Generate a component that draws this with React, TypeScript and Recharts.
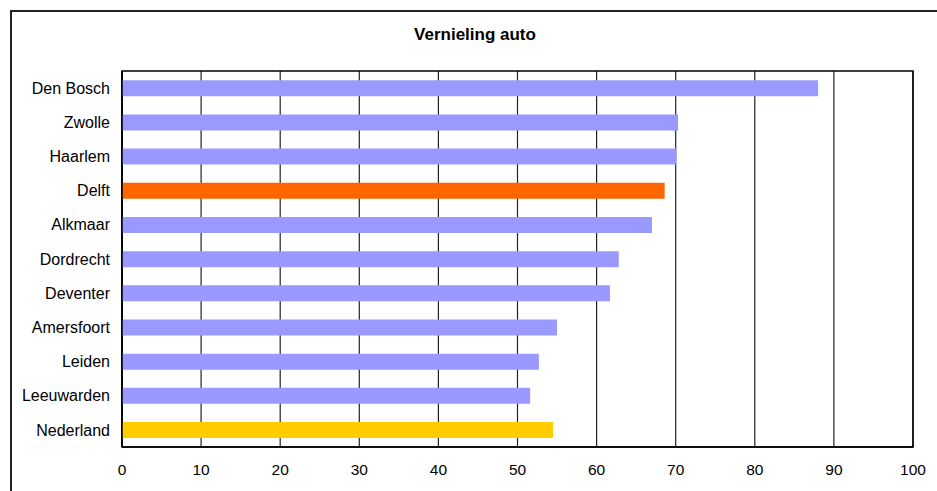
import { Bar, BarChart, CartesianGrid, Cell, ReferenceArea, XAxis, YAxis } from "recharts";

const cities = [
  "Den Bosch",
  "Zwolle",
  "Haarlem",
  "Delft",
  "Alkmaar",
  "Dordrecht",
  "Deventer",
  "Amersfoort",
  "Leiden",
  "Leeuwarden",
  "Nederland"
];

const values = [88.0, 70.3, 70.1, 68.6, 67.0, 62.8, 61.7, 55.0, 52.7, 51.6, 54.5];

const xTicks = [0, 10, 20, 30, 40, 50, 60, 70, 80, 90, 100];

// highlighted rows
const HIGHLIGHT: Record<string, string> = {
  Delft: "#FF6600",
  Nederland: "#FFCC00"
};
const BASE_COLOR = "#9999FF";

const FONT = "'Liberation Sans', Arial, sans-serif";

const data = cities.map((city, i) => ({ city, value: values[i] }));

export default function App() {
  return (
    <div style={{ position: "absolute", left: 0, top: 0, width: 937, height: 491, background: "#fff", overflow: "hidden", fontFamily: FONT }}>
      {/* outer chart frame, runs past the right and bottom edge */}
      <div style={{ position: "absolute", left: 10, top: 10, width: 940, height: 500, border: "2px solid #222", boxSizing: "border-box" }} />
      <div style={{ position: "absolute", left: 0, top: 25, width: 950, textAlign: "center", fontWeight: "bold", fontSize: 17, color: "#000" }}>
        Vernieling auto
      </div>
      <div style={{ position: "absolute", left: 0, top: 0 }}>
        <BarChart
          width={937}
          height={491}
          data={data}
          layout="vertical"
          margin={{ top: 71, right: 24, bottom: 0, left: 0 }}
          barCategoryGap="27%"
        >
          <CartesianGrid horizontal={false} stroke="#222" strokeWidth={1.2} />
          <XAxis
            type="number"
            domain={[0, 100]}
            ticks={xTicks}
            axisLine={{ stroke: "#000", strokeWidth: 1.5 }}
            tickLine={false}
            tickSize={0}
            tickMargin={17}
            tick={{ fill: "#000", fontSize: 15.5, fontFamily: FONT }}
            height={44}
          />
          <YAxis
            type="category"
            dataKey="city"
            width={122}
            axisLine={{ stroke: "#000", strokeWidth: 1.5 }}
            tickLine={false}
            tickSize={0}
            tickMargin={12}
            interval={0}
            tick={{ fill: "#000", fontSize: 16, fontFamily: FONT }}
          />
          {/* plot frame */}
          <ReferenceArea x1={0} x2={100} fill="none" stroke="#000" strokeWidth={1.5} />
          <Bar dataKey="value" isAnimationActive={false}>
            {data.map((d) => (
              <Cell key={d.city} fill={HIGHLIGHT[d.city] ?? BASE_COLOR} />
            ))}
          </Bar>
        </BarChart>
      </div>
    </div>
  );
}
